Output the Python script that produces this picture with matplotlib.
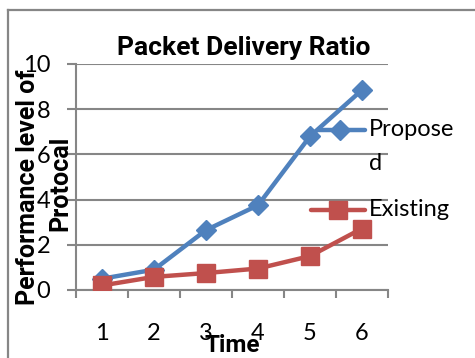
import matplotlib
matplotlib.use("Agg")
import matplotlib.pyplot as plt
from matplotlib.lines import Line2D

# dados do grafico
times = [1, 2, 3, 4, 5, 6]
proposed = [0.5, 0.9, 2.65, 3.75, 6.8, 8.85]
existing = [0.2, 0.58, 0.75, 0.95, 1.5, 2.72]
yticks = [0, 2, 4, 6, 8, 10]

BLUE = "#4F81BD"
RED = "#C0504D"
GRAY = "#868686"
BOLD = ['Roboto', 'DejaVu Sans']

plt.rcParams['font.family'] = ['Lato', 'DejaVu Sans']

W, H = 475, 358
fig = plt.figure(figsize=(W / 100, H / 100), dpi=100)

def fx(px):
    return px / W

def fy(py):
    return 1 - py / H

ax = fig.add_axes([fx(76), fy(290), fx(388) - fx(76), fy(64) - fy(290)])

ax.plot(times, proposed, color=BLUE, lw=3.2, marker='D', ms=10,
        mec=BLUE, mfc=BLUE, solid_capstyle='round', zorder=3)
ax.plot(times, existing, color=RED, lw=3.2, marker='s', ms=13,
        mec=RED, mfc=RED, solid_capstyle='round', zorder=4)

ax.set_xlim(0.5, 6.5)
ax.set_ylim(0, 10)
ax.set_yticks(yticks)
ax.set_yticklabels([str(v) for v in yticks])
ax.yaxis.grid(True, color=GRAY, lw=1.5)
ax.set_axisbelow(True)

# rotulos no centro das categorias, tracos nas divisas
ax.set_xticks(times)
ax.set_xticklabels([str(t) for t in times])
ax.set_xticks([t - 0.5 for t in times] + [6.5], minor=True)
ax.tick_params(axis='x', which='major', length=0, pad=24, labelsize=17)
ax.tick_params(axis='x', which='minor', length=5.8, width=1.5, color=GRAY)
ax.tick_params(axis='y', length=6.5, width=1.5, color=GRAY, pad=12, labelsize=17)

for s in ['top', 'right']:
    ax.spines[s].set_visible(False)
for s in ['left', 'bottom']:
    ax.spines[s].set_color(GRAY)
    ax.spines[s].set_linewidth(1.5)

# titulo e eixos
fig.text(fx(244), fy(48), "Packet Delivery Ratio", ha='center', va='center',
         fontsize=19, fontweight='bold', family=BOLD)
fig.text(fx(232), fy(352), "Time", ha='center', va='baseline',
         fontsize=17.5, fontweight='bold', family=BOLD)
fig.text(fx(28), fy(187), "Performance level of", rotation=90,
         ha='center', va='center', fontsize=18, fontweight='bold', family=BOLD)
fig.text(fx(60), fy(183), "Protocal", rotation=90,
         ha='center', va='center', fontsize=18, fontweight='bold', family=BOLD)

# legenda
fig.add_artist(Line2D([fx(318), fx(365)], [fy(130), fy(130)], color=BLUE, lw=3.2,
                      solid_capstyle='round'))
fig.add_artist(Line2D([fx(340)], [fy(130)], color=BLUE, marker='D', ms=10, mec=BLUE))
fig.text(fx(369), fy(130), "Propose", ha='left', va='center', fontsize=17)
fig.text(fx(369), fy(163), "d", ha='left', va='center', fontsize=17)

fig.add_artist(Line2D([fx(311), fx(365)], [fy(210), fy(210)], color=RED, lw=3.2,
                      solid_capstyle='round'))
fig.add_artist(Line2D([fx(338)], [fy(210)], color=RED, marker='s', ms=13, mec=RED))
fig.text(fx(369), fy(209), "Existing", ha='left', va='center', fontsize=17)

# moldura
fig.add_artist(Line2D([fx(8), fx(475)], [fy(10), fy(10)], color=GRAY, lw=1.6))
fig.add_artist(Line2D([fx(8), fx(8)], [fy(10), fy(358)], color=GRAY, lw=1.6))

fig.savefig("out.png", dpi=100)
